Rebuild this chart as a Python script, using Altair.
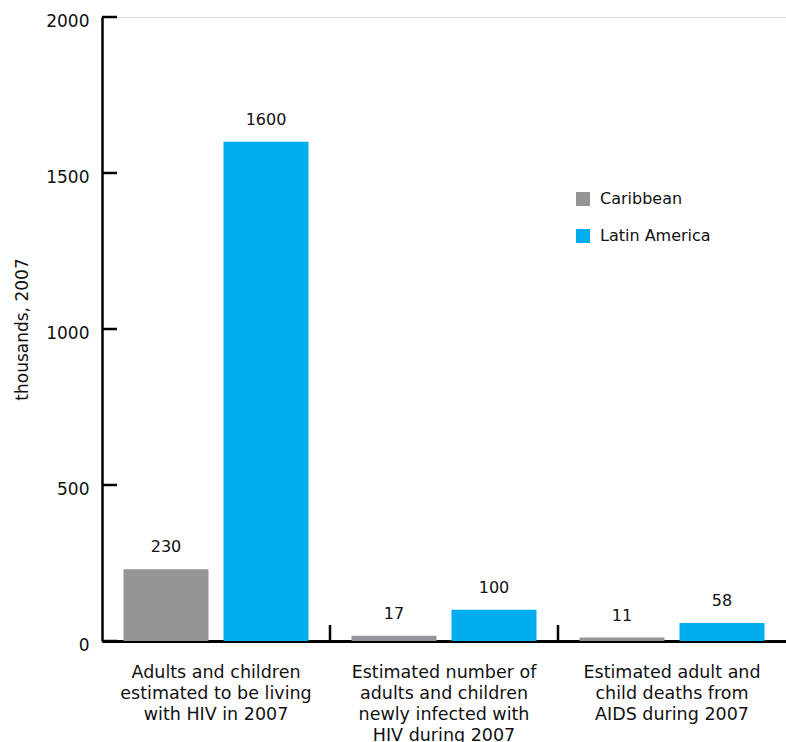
import altair as alt
import pandas as pd

# Category labels (one list of lines per group)
category_lines = [
    ["Adults and children", "estimated to be living", "with HIV in 2007"],
    ["Estimated number of", "adults and children", "newly infected with", "HIV during 2007"],
    ["Estimated adult and", "child deaths from", "AIDS during 2007"],
]
regions = ["Caribbean", "Latin America"]
caribbean = [230, 17, 11]
latin_america = [1600, 100, 58]
y_ticks = [0, 500, 1000, 1500, 2000]

categories = ["|".join(lines) for lines in category_lines]

rows = []
for cat, c_val, l_val in zip(categories, caribbean, latin_america):
    rows.append({"category": cat, "region": regions[0], "value": c_val})
    rows.append({"category": cat, "region": regions[1], "value": l_val})
df = pd.DataFrame(rows)

FONT = "DejaVu Sans"
TEXT = "#111111"
W, H = 684, 624

x_scale = alt.Scale(domain=categories, paddingInner=0, paddingOuter=0)
y_scale = alt.Scale(domain=[0, 2000], nice=False)
offset_scale = alt.Scale(domain=regions, paddingInner=0.15, paddingOuter=0.215)
color_scale = alt.Scale(domain=regions, range=["#939598", "#00AEEF"])

x_enc = alt.X(
    "category:N",
    scale=x_scale,
    sort=categories,
    axis=alt.Axis(
        title=None,
        labelExpr="split(datum.label, '|')",
        labelAngle=0,
        labelFont=FONT,
        labelFontSize=17.5,
        labelColor=TEXT,
        labelLineHeight=21,
        labelPadding=22,
        labelBaseline="top",
        labelLimit=0,
        ticks=False,
        domainColor="black",
        domainWidth=3,
    ),
)
y_enc = alt.Y(
    "value:Q",
    scale=y_scale,
    axis=alt.Axis(
        title="thousands, 2007",
        titleFont=FONT,
        titleFontSize=17,
        titleFontWeight="normal",
        titleColor=TEXT,
        titlePadding=14,
        values=y_ticks,
        format="d",
        labelFont=FONT,
        labelFontSize=17,
        labelColor=TEXT,
        labelPadding=13,
        labelOffset=4,
        tickSize=0,
        grid=False,
        domainColor="black",
        domainWidth=2.5,
    ),
)

bars = alt.Chart(df).mark_bar().encode(
    x=x_enc,
    xOffset=alt.XOffset("region:N", scale=offset_scale, sort=regions),
    y=y_enc,
    color=alt.Color(
        "region:N",
        scale=color_scale,
        sort=regions,
        legend=alt.Legend(
            title=None,
            orient="none",
            legendX=473,
            legendY=174,
            symbolType="square",
            symbolSize=196,
            symbolStrokeWidth=0,
            symbolOpacity=1,
            labelFont=FONT,
            labelFontSize=16,
            labelColor=TEXT,
            labelOffset=9,
            rowPadding=21,
            padding=0,
        ),
    ),
)

labels = alt.Chart(df).mark_text(
    font=FONT, fontSize=16, color=TEXT, baseline="alphabetic", dy=-17
).encode(
    x=alt.X("category:N", scale=x_scale, sort=categories),
    xOffset=alt.XOffset("region:N", scale=offset_scale, sort=regions),
    y=alt.Y("value:Q", scale=y_scale),
    text=alt.Text("value:Q", format="d"),
)

# Inward-pointing ticks on the value axis
tick_df = pd.DataFrame({"value": y_ticks})
y_tick_marks = alt.Chart(tick_df).mark_rule(color="black", strokeWidth=2.5).encode(
    y=alt.Y("value:Q", scale=y_scale),
    x=alt.value(0),
    x2=alt.value(15),
)

# Upward dividers between category groups
divider_df = pd.DataFrame({"category": categories[1:]})
dividers = alt.Chart(divider_df).mark_rule(color="black", strokeWidth=2.5).encode(
    x=alt.X("category:N", scale=x_scale, sort=categories, bandPosition=0),
    y=alt.value(H),
    y2=alt.value(H - 16),
)

chart = (
    alt.layer(bars, labels, y_tick_marks, dividers)
    .properties(
        width=W,
        height=H,
        autosize=alt.AutoSizeParams(type="none"),
        padding={"left": 102, "top": 17, "right": 0, "bottom": 101},
    )
    .configure_view(stroke=None)
    .configure(background="white")
)

chart.save("out.html", embed_options={"renderer": "svg", "actions": False})
